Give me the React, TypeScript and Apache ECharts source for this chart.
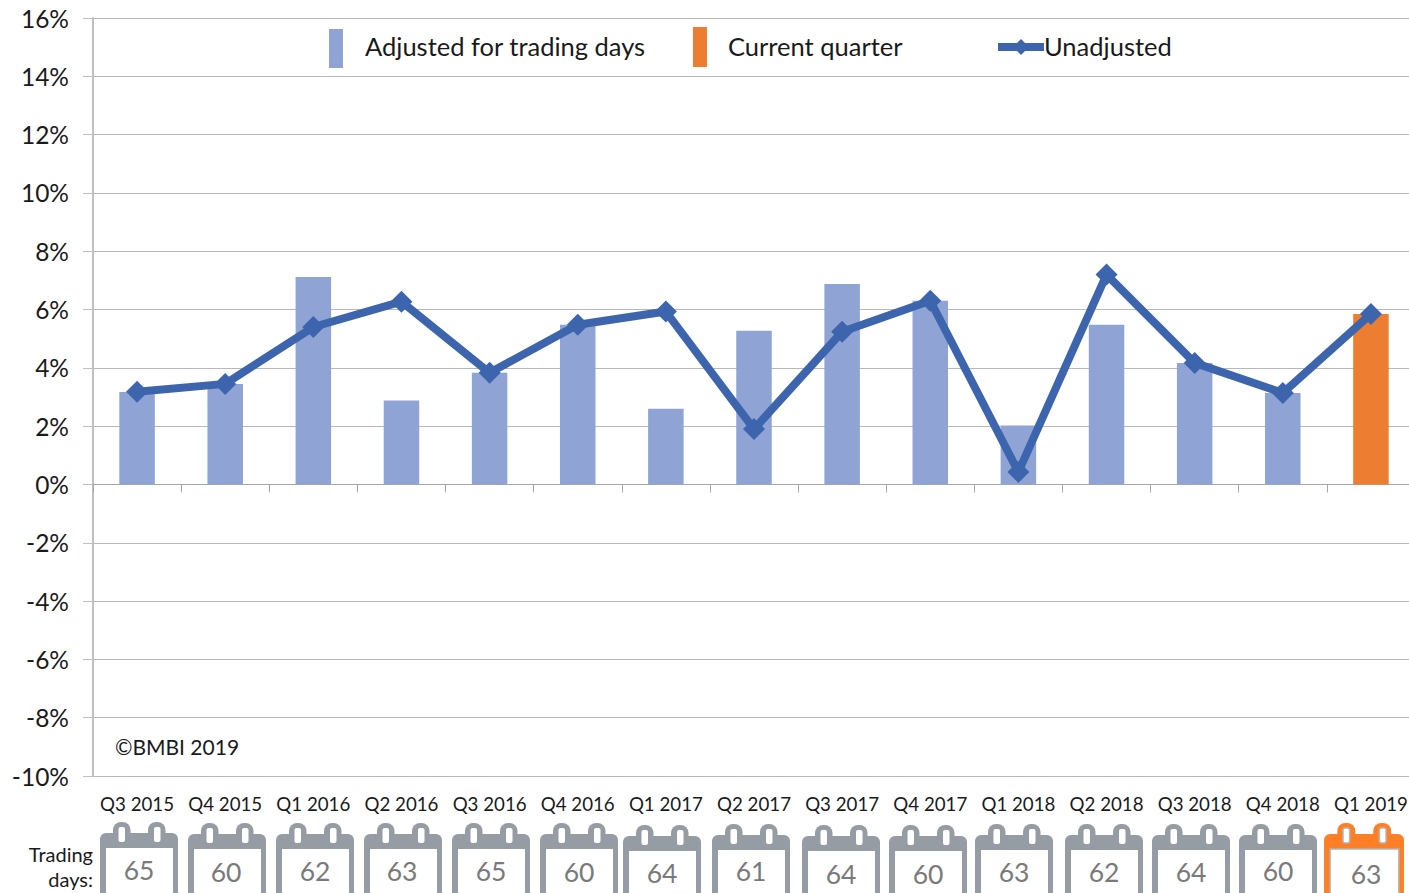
import React, { useEffect, useRef } from "react";
import * as echarts from "echarts";

const categories = ["Q3 2015","Q4 2015","Q1 2016","Q2 2016","Q3 2016","Q4 2016","Q1 2017","Q2 2017","Q3 2017","Q4 2017","Q1 2018","Q2 2018","Q3 2018","Q4 2018","Q1 2019"];
const adjustedValues = [3.17,3.45,7.12,2.88,3.83,5.48,2.6,5.27,6.88,6.3,2.02,5.48,4.17,3.14,null];
const currentValues = [null,null,null,null,null,null,null,null,null,null,null,null,null,null,5.85];
const unadjustedValues = [3.18,3.45,5.4,6.27,3.83,5.48,5.93,1.9,5.24,6.3,0.43,7.2,4.17,3.14,5.85];
const tradingDays = [65,60,62,63,65,60,64,61,64,60,63,62,64,60,63];

const calendarLeft = [100,188,276,364,452,540,623,712,802,889,975,1065,1152,1239,1324];
const calendarTop = [822,823,823,823,823,823,825,824,825,825,824,824,824,824,823];
const numberX = [139,226,315,402,491,579,662,751,841,928,1014,1104,1191,1278,1366];
const numberY = [870,872,871,871,871,872,873,871,874,874,872,872,872,871,874];

const FONT = "Lato";
const GREY = "#959ca3";
const ORANGE = "#ff7f27";

function calendar(i: number) {
  const last = i === categories.length - 1;
  const fill = last ? ORANGE : GREY;
  const top = calendarTop[i];
  const left = calendarLeft[i];
  const w = last ? 80 : 78;
  const k = w / 78;
  const rect = (x: number, y: number, width: number, height: number, r: any, style: any) => ({
    type: "rect", silent: true,
    shape: { x: left + x * k, y: top + y, width: width * k, height, r }, style,
  });
  const hollow = last ? { fill: "#ffffff", stroke: "#b5b5b5", lineWidth: 1.5 } : { fill: "#ffffff" };
  return [
    rect(13, 0, 17.5, 24, [8, 8, 0, 0], { fill }),
    rect(48, 0, 17.5, 24, [8, 8, 0, 0], { fill }),
    rect(0, 11, 78, 70, [6, 6, 0, 0], { fill }),
    rect(18.5, 5, 6.5, 15, 2, hollow),
    rect(54, 5, 6.5, 15, 2, hollow),
    rect(6, 26, 67, 60, 0, hollow),
    {
      type: "text", silent: true, x: numberX[i], y: numberY[i],
      style: { text: String(tradingDays[i]), font: `26.5px ${FONT}`, fill: "#7a7a7a", textAlign: "center", textVerticalAlign: "middle" },
    },
  ];
}

export default function App() {
  const ref = useRef<HTMLDivElement>(null);
  useEffect(() => {
    document.body.style.margin = "0";
    const chart = echarts.init(ref.current!, undefined, { renderer: "svg" });
    chart.setOption({
      animation: false,
      backgroundColor: "#ffffff",
      grid: { left: 93, top: 18, width: 1322, height: 758, outerBoundsMode: "none", containLabel: false },
      legend: [
        { left: 329, top: 29, padding: 0, itemWidth: 14, itemHeight: 39, data: [{ name: "Adjusted for trading days", icon: "rect" }],
          formatter: "{a|{name}}",
          textStyle: { padding: [0, 0, 0, 17], rich: { a: { fontFamily: FONT, fontSize: 25.5, color: "#1a1a1a", padding: [0, 0, 6, 0] } } } },
        { left: 693, top: 27, padding: 0, itemWidth: 14, itemHeight: 40, data: [{ name: "Current quarter", icon: "rect" }],
          formatter: "{a|{name}}",
          textStyle: { padding: [0, 0, 0, 16], rich: { a: { fontFamily: FONT, fontSize: 25.5, color: "#1a1a1a", padding: [0, 0, 2, 0] } } } },
        { left: 994, top: 33, padding: 0, itemWidth: 46, itemHeight: 20, data: ["Unadjusted"], lineStyle: { width: 8 },
          formatter: "{a|{name}}",
          textStyle: { padding: [0, 0, 0, -5], rich: { a: { fontFamily: FONT, fontSize: 25.5, color: "#1a1a1a", padding: [0, 0, 2, 0] } } } },
      ],
      xAxis: {
        type: "category",
        data: categories,
        axisLine: { onZero: true, lineStyle: { color: "#a6a6a6", width: 1 } },
        axisTick: { show: true, length: 8, alignWithLabel: false, lineStyle: { color: "#a6a6a6" } },
        axisLabel: { interval: 0, margin: 18, fontFamily: FONT, fontSize: 18.7, color: "#1a1a1a", hideOverlap: false },
        splitLine: { show: false },
      },
      yAxis: {
        type: "value",
        min: -10,
        max: 16,
        interval: 2,
        axisLine: { show: true, onZero: false, lineStyle: { color: "#bfbfbf", width: 2 } },
        axisTick: { show: true, length: 10, lineStyle: { color: "#bfbfbf" } },
        axisLabel: { margin: 24, formatter: "{value}%", fontFamily: FONT, fontSize: 24.5, color: "#1a1a1a", padding: [0, 0, 5, 0] },
        splitLine: { show: true, lineStyle: { color: "#b8b8b8", width: 1 } },
      },
      series: [
        { name: "Adjusted for trading days", type: "bar", data: adjustedValues, barWidth: 35.5, barGap: "-100%", itemStyle: { color: "#8fa3d5" } },
        { name: "Current quarter", type: "bar", data: currentValues, barWidth: 35.5, barGap: "-100%", itemStyle: { color: "#ed7d31" } },
        { name: "Unadjusted", type: "line", data: unadjustedValues, symbol: "diamond", symbolSize: 22, z: 5,
          lineStyle: { color: "#3d65ae", width: 8 }, itemStyle: { color: "#3d65ae" } },
      ],
      graphic: [
        { type: "text", silent: true, x: 115, y: 746, style: { text: "©BMBI 2019", font: `21px ${FONT}`, fill: "#1a1a1a", textVerticalAlign: "middle" } },
        { type: "text", silent: true, x: 93, y: 854, style: { text: "Trading", font: `20px ${FONT}`, fill: "#1a1a1a", textAlign: "right", textVerticalAlign: "middle" } },
        { type: "text", silent: true, x: 93, y: 879, style: { text: "days:", font: `20px ${FONT}`, fill: "#1a1a1a", textAlign: "right", textVerticalAlign: "middle" } },
        ...categories.flatMap((_, i) => calendar(i)),
      ],
    });
    return () => chart.dispose();
  }, []);
  return <div ref={ref} style={{ position: "fixed", left: 0, top: 0, width: 1409, height: 893 }} />;
}
